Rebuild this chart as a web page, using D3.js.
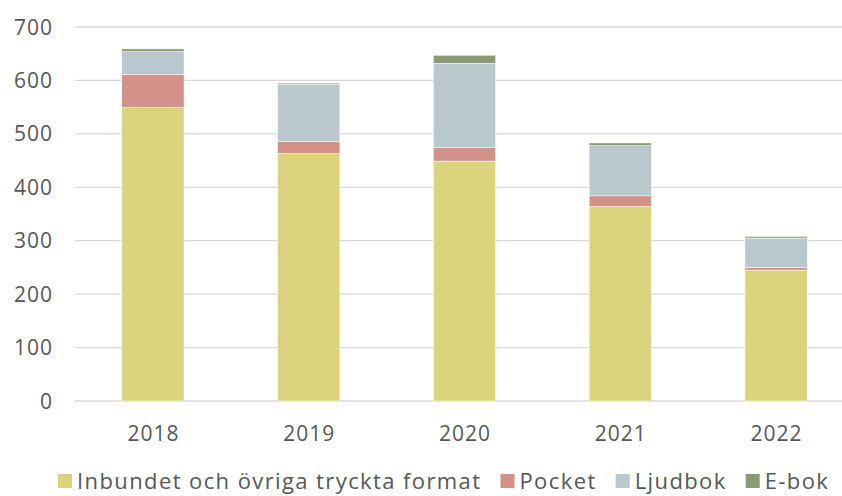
<!DOCTYPE html>
<html>
<head>
<meta charset="utf-8">
<script src="https://cdn.jsdelivr.net/npm/d3@7"></script>
<style>
  body { margin: 0; background: #fff; }
  svg text { font-family: "Open Sans", "Lato", sans-serif; fill: #575757; }
</style>
</head>
<body>
<div id="chart"></div>
<script>
const years = ["2018", "2019", "2020", "2021", "2022"];
const inbundet = [549, 463, 449, 364, 245];
const pocket = [62, 23, 25, 20, 5];
const ljudbok = [43, 107, 158, 94, 55];
const ebok = [5, 2, 15, 5, 3];
const seriesNames = ["Inbundet och övriga tryckta format", "Pocket", "Ljudbok", "E-bok"];
const colors = ["#dcd37d", "#d4918a", "#b9c8cd", "#8a9a74"];
const yTicks = [0, 100, 200, 300, 400, 500, 600, 700];

const width = 842, height = 496;
const margin = { top: 27, right: -12, bottom: 95, left: 75 };

const svg = d3.select("#chart").append("svg")
    .attr("width", width)
    .attr("height", height);

const table = years.map((y, i) => ({
    year: y,
    [seriesNames[0]]: inbundet[i],
    [seriesNames[1]]: pocket[i],
    [seriesNames[2]]: ljudbok[i],
    [seriesNames[3]]: ebok[i]
}));

const x = d3.scaleBand()
    .domain(years)
    .range([margin.left, width - margin.right])
    .paddingInner(0.6)
    .paddingOuter(0.3);

const y = d3.scaleLinear()
    .domain([0, 700])
    .range([height - margin.bottom, margin.top]);

// gridlines
svg.append("g")
    .selectAll("line")
    .data(yTicks)
    .join("line")
    .attr("x1", margin.left)
    .attr("x2", width)
    .attr("y1", d => y(d))
    .attr("y2", d => y(d))
    .attr("stroke", "#d9d9d9")
    .attr("stroke-width", 1.3);

// y labels
svg.append("g")
    .selectAll("text")
    .data(yTicks)
    .join("text")
    .attr("x", 53)
    .attr("y", d => y(d))
    .attr("dy", "0.36em")
    .attr("text-anchor", "end")
    .style("font-size", "21px")
    .style("letter-spacing", "1px")
    .text(d => d);

const stack = d3.stack().keys(seriesNames)(table);

svg.append("g")
    .selectAll("g")
    .data(stack)
    .join("g")
    .attr("fill", (d, i) => colors[i])
    .selectAll("rect")
    .data(d => d)
    .join("rect")
    .attr("x", d => x(d.data.year))
    .attr("width", x.bandwidth())
    .attr("y", d => y(d[1]))
    .attr("height", d => y(d[0]) - y(d[1]))
    .attr("stroke", "#fff")
    .attr("stroke-width", 0.5);

// x labels
svg.append("g")
    .selectAll("text")
    .data(years)
    .join("text")
    .attr("x", d => x(d) + x.bandwidth() / 2 + 0.5)
    .attr("y", 441)
    .attr("text-anchor", "middle")
    .style("font-size", "21px")
    .style("letter-spacing", "1px")
    .text(d => d);

// legend
const legend = svg.append("g").attr("transform", "translate(58,489)");
let lx = 0;
seriesNames.forEach((name, i) => {
    const g = legend.append("g").attr("transform", `translate(${lx},0)`);
    g.append("rect")
        .attr("x", 0)
        .attr("y", -15)
        .attr("width", 14)
        .attr("height", 14)
        .attr("fill", colors[i]);
    const t = g.append("text")
        .attr("x", 19)
        .attr("y", 0)
        .style("font-size", "22px")
        .style("letter-spacing", "1.4px")
        .text(name);
    lx += 19 + t.node().getComputedTextLength() + 19;
});
</script>
</body>
</html>
